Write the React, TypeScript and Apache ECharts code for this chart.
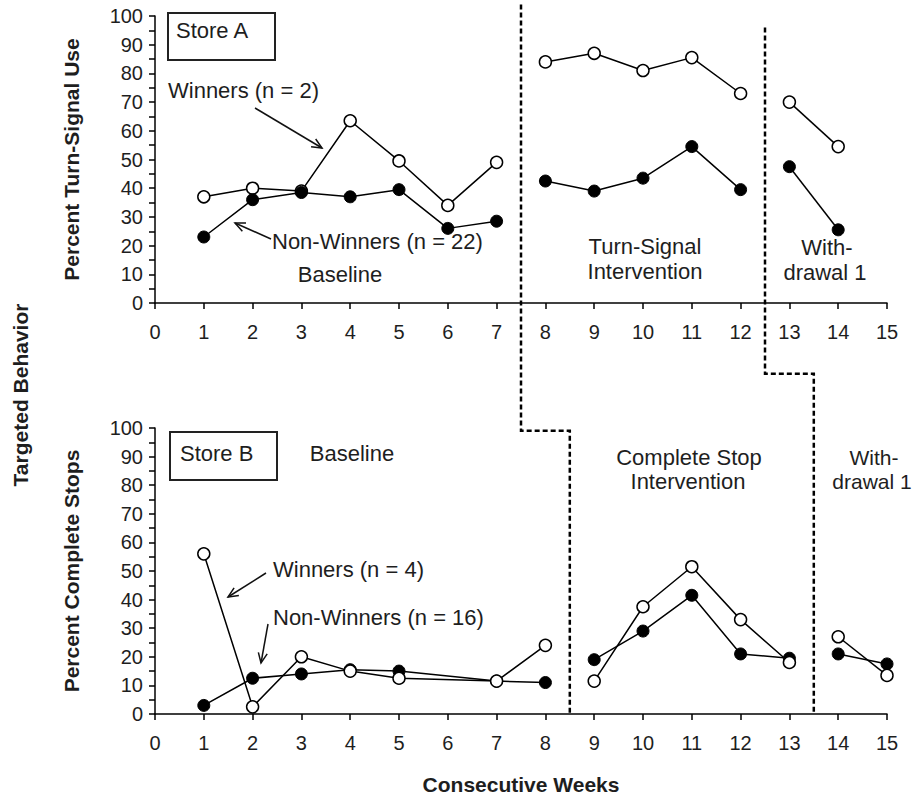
import React, { useEffect, useRef } from "react";
import * as echarts from "echarts";

// ---- Data ----
const weekTicks = [0, 15];
const percentTicks = [0, 100];

const storeAWeeks = [1, 2, 3, 4, 5, 6, 7, 8, 9, 10, 11, 12, 13, 14];
const storeAWinners = [37, 40, 39, 63.5, 49.5, 34, 49, 84, 87, 81, 85.5, 73, 70, 54.5];
const storeANonWinners = [23, 36, 38.5, 37, 39.5, 26, 28.5, 42.5, 39, 43.5, 54.5, 39.5, 47.5, 25.5];
const storeAPhaseBreaks = [7.5, 12.5];

const storeBWeeks = [1, 2, 3, 4, 5, 7, 8, 9, 10, 11, 12, 13, 14, 15];
const storeBWinners = [56, 2.5, 20, 15, 12.5, 11.5, 24, 11.5, 37.5, 51.5, 33, 18, 27, 13.5];
const storeBNonWinners = [3, 12.5, 14, 15.5, 15, 11.5, 11, 19, 29, 41.5, 21, 19.5, 21, 17.5];
const storeBPhaseBreaks = [8.5, 13.5];

// phase-change staircase lines: start level (store A scale) and step level (store B scale)
const phaseLineTopStart = [104, 96];
const phaseLineStepLevel = [99, 119];

const FONT = '"Liberation Sans", Arial, sans-serif';
const INK = "#1e1e1e";

function segments(weeks: number[], values: number[], breaks: number[]) {
  const bounds = [-Infinity, ...breaks, Infinity];
  const pts = weeks.map((w, i) => [w, values[i]]);
  return bounds.slice(0, -1).map((lo, i) => pts.filter(([w]) => w > lo && w < bounds[i + 1]));
}

function lineSeries(data: number[][], idx: number, open: boolean, name: string, z: number) {
  return {
    type: "line",
    name,
    xAxisIndex: idx,
    yAxisIndex: idx,
    data,
    symbol: "circle",
    symbolSize: 12,
    z,
    lineStyle: { color: "#000", width: 1.5 },
    itemStyle: open
      ? { color: "#fff", borderColor: "#000", borderWidth: 1.5 }
      : { color: "#000", borderColor: "#000", borderWidth: 1 },
  };
}

function xAxis(idx: number, name?: string) {
  return {
    type: "value",
    gridIndex: idx,
    min: weekTicks[0],
    max: weekTicks[1],
    interval: 1,
    name: name || "",
    nameLocation: "middle",
    nameGap: 60,
    nameTextStyle: { fontSize: 21, fontWeight: "bold", color: INK, fontFamily: FONT },
    axisLine: { show: true, onZero: false, lineStyle: { color: "#000", width: 1.5 } },
    axisTick: { show: true, length: 6, lineStyle: { color: "#000", width: 1.5 } },
    axisLabel: { fontSize: 20, color: INK, margin: 19, fontFamily: FONT },
    splitLine: { show: false },
  };
}

function yAxis(idx: number, name: string) {
  return {
    type: "value",
    gridIndex: idx,
    min: percentTicks[0],
    max: percentTicks[1],
    interval: 5,
    name,
    nameLocation: "middle",
    nameRotate: 90,
    nameGap: 73,
    nameTextStyle: { fontSize: 21, fontWeight: "bold", color: INK, fontFamily: FONT },
    axisLine: { show: true, onZero: false, lineStyle: { color: "#000", width: 1.5 } },
    axisTick: { show: true, length: 6, lineStyle: { color: "#000", width: 1.5 } },
    axisLabel: {
      fontSize: 20,
      color: INK,
      margin: 12,
      fontFamily: FONT,
      formatter: (v: number) => (v % 10 === 0 ? String(v) : ""),
    },
    splitLine: { show: false },
  };
}

function txt(text: string, x: number, y: number, align = "left", size = 22) {
  return {
    type: "text",
    x,
    y,
    z: 50,
    style: {
      text,
      fontSize: size,
      fontFamily: FONT,
      fill: INK,
      textAlign: align,
      textVerticalAlign: "middle",
    },
  };
}

function arrow(x1: number, y1: number, x2: number, y2: number) {
  const ang = Math.atan2(y2 - y1, x2 - x1);
  const L = 11;
  const spread = 0.42;
  const p1 = [x2 - L * Math.cos(ang - spread), y2 - L * Math.sin(ang - spread)];
  const p2 = [x2 - L * Math.cos(ang + spread), y2 - L * Math.sin(ang + spread)];
  const st = { stroke: "#111", lineWidth: 1.5, fill: null };
  return [
    { type: "line", z: 50, shape: { x1, y1, x2, y2 }, style: st },
    { type: "polyline", z: 50, shape: { points: [p1, [x2, y2], p2] }, style: st },
  ];
}

export default function App() {
  const ref = useRef<HTMLDivElement>(null);
  useEffect(() => {
    if (!ref.current) return;
    const chart = echarts.init(ref.current, null, { renderer: "svg" });
    const aW = segments(storeAWeeks, storeAWinners, storeAPhaseBreaks);
    const aN = segments(storeAWeeks, storeANonWinners, storeAPhaseBreaks);
    const bW = segments(storeBWeeks, storeBWinners, storeBPhaseBreaks);
    const bN = segments(storeBWeeks, storeBNonWinners, storeBPhaseBreaks);
    const series: any[] = [];
    aW.forEach((d) => series.push(lineSeries(d, 0, true, "Store A Winners", 3)));
    aN.forEach((d) => series.push(lineSeries(d, 0, false, "Store A Non-Winners", 4)));
    bN.forEach((d) => series.push(lineSeries(d, 1, false, "Store B Non-Winners", 3)));
    bW.forEach((d) => series.push(lineSeries(d, 1, true, "Store B Winners", 4)));

    chart.setOption({
      animation: false,
      backgroundColor: "#fff",
      textStyle: { fontFamily: FONT },
      grid: [
        { left: 155, top: 16, width: 732, height: 287 },
        { left: 155, top: 428, width: 732, height: 286 },
      ],
      xAxis: [xAxis(0), xAxis(1, "Consecutive Weeks")],
      yAxis: [yAxis(0, "Percent Turn-Signal Use"), yAxis(1, "Percent Complete Stops")],
      series,
    });

    // phase-change lines through the library's coordinate system
    const graphics: any[] = [];
    storeAPhaseBreaks.forEach((wa, i) => {
      const wb = storeBPhaseBreaks[i];
      const pTop = chart.convertToPixel({ gridIndex: 0 } as any, [wa, phaseLineTopStart[i]]) as number[];
      const pStepA = chart.convertToPixel({ gridIndex: 1 } as any, [wa, phaseLineStepLevel[i]]) as number[];
      const pStepB = chart.convertToPixel({ gridIndex: 1 } as any, [wb, phaseLineStepLevel[i]]) as number[];
      const pBot = chart.convertToPixel({ gridIndex: 1 } as any, [wb, 0]) as number[];
      graphics.push({
        type: "polyline",
        z: 40,
        shape: { points: [pTop, pStepA, pStepB, pBot] },
        style: { stroke: "#000", lineWidth: 2.5, lineDash: [5, 3], fill: null },
      });
    });

    graphics.push(
      { type: "rect", z: 50, shape: { x: 168, y: 13, width: 107, height: 47 }, style: { stroke: "#222", lineWidth: 2, fill: "#fff" } },
      txt("Store A", 176, 30),
      txt("Winners (n = 2)", 168, 90),
      ...arrow(255, 108, 322, 148),
      txt("Non-Winners (n = 22)", 272, 241),
      ...arrow(271, 239, 235, 223),
      txt("Baseline", 340, 274, "center"),
      txt("Turn-Signal", 645, 246, "center"),
      txt("Intervention", 645, 271, "center"),
      txt("With-", 827, 247, "center"),
      txt("drawal 1", 825, 272, "center"),
      { type: "rect", z: 50, shape: { x: 170, y: 432, width: 107, height: 48 }, style: { stroke: "#222", lineWidth: 2, fill: "#fff" } },
      txt("Store B", 180, 453),
      txt("Baseline", 352, 453, "center"),
      txt("Winners (n = 4)", 273, 569),
      ...arrow(266, 573, 228, 597),
      txt("Non-Winners (n = 16)", 273, 617),
      ...arrow(268, 624, 261, 663),
      txt("Complete Stop", 689, 457, "center"),
      txt("Intervention", 688, 481, "center"),
      txt("With-", 874, 457, "center", 21),
      txt("drawal 1", 872, 481, "center", 21),
      {
        type: "text",
        x: 20,
        y: 395,
        rotation: Math.PI / 2,
        z: 50,
        style: {
          text: "Targeted Behavior",
          fontSize: 21,
          fontWeight: "bold",
          fontFamily: FONT,
          fill: INK,
          textAlign: "center",
          textVerticalAlign: "middle",
        },
      }
    );
    chart.setOption({ graphic: graphics });

    return () => chart.dispose();
  }, []);
  return (
    <div
      ref={ref}
      style={{ position: "absolute", left: 0, top: 0, width: 921, height: 799 }}
    />
  );
}
